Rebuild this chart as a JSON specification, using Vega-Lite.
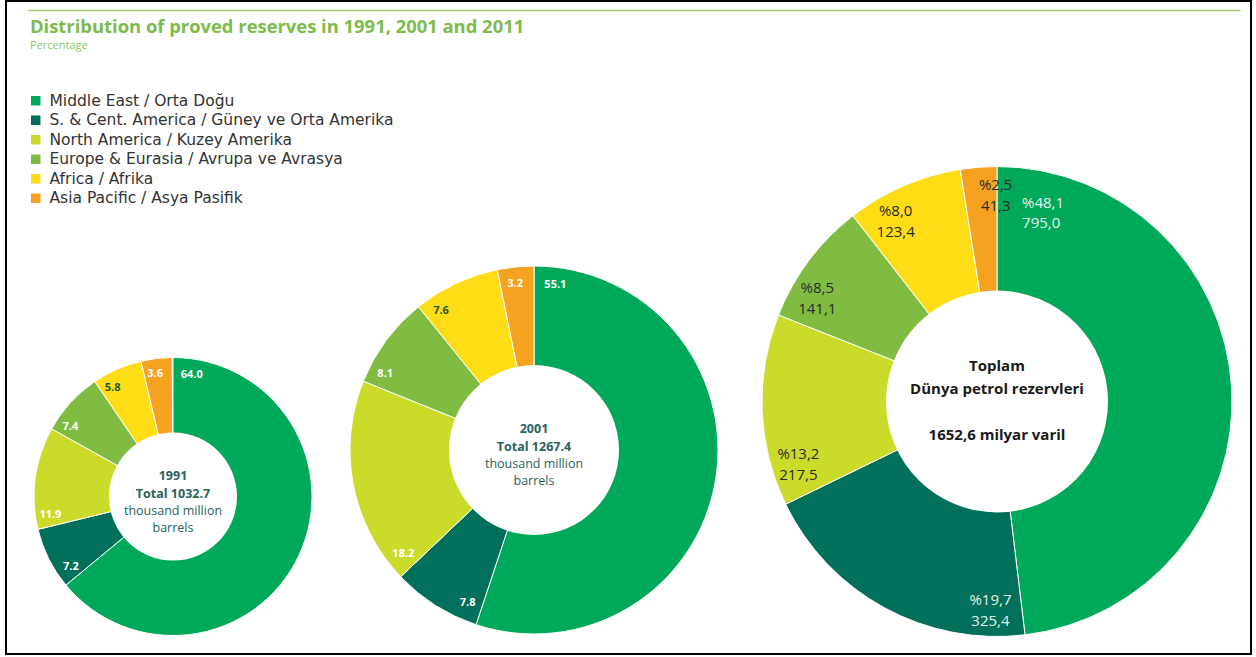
{
  "$schema": "https://vega.github.io/schema/vega-lite/v6.json",
  "autosize": {"type": "fit", "contains": "padding"},
  "width": 1256,
  "height": 657,
  "padding": {"left": 6, "top": 1, "right": 5, "bottom": 3},
  "background": "white",
  "config": {
    "view": {"stroke": "#000000", "strokeWidth": 2},
    "axisY": {"grid": false},
    "axisX": {"grid": false}
  },
  "title": {
    "text": "Distribution of proved reserves in 1991, 2001 and 2011",
    "subtitle": "Percentage",
    "anchor": "start",
    "frame": "group",
    "orient": "top",
    "offset": -49.5,
    "dx": 24,
    "font": "Open Sans",
    "fontSize": 18.4,
    "fontWeight": "bold",
    "color": "#7dbb4c",
    "subtitleFont": "Open Sans",
    "subtitleFontSize": 11,
    "subtitleColor": "#8cc665",
    "subtitlePadding": 3.5
  },
  "datasets": {
    "reserves": [
      {"year": 1991, "total": 1032.7, "rank": 1, "category": "Middle East / Orta Doğu", "value": 64.0, "label": "64.0"},
      {"year": 1991, "total": 1032.7, "rank": 2, "category": "S. & Cent. America / Güney ve Orta Amerika", "value": 7.2, "label": "7.2"},
      {"year": 1991, "total": 1032.7, "rank": 3, "category": "North America / Kuzey Amerika", "value": 11.9, "label": "11.9"},
      {"year": 1991, "total": 1032.7, "rank": 4, "category": "Europe & Eurasia / Avrupa ve Avrasya", "value": 7.4, "label": "7.4"},
      {"year": 1991, "total": 1032.7, "rank": 5, "category": "Africa / Afrika", "value": 5.8, "label": "5.8"},
      {"year": 1991, "total": 1032.7, "rank": 6, "category": "Asia Pacific / Asya Pasifik", "value": 3.6, "label": "3.6"},
      {"year": 2001, "total": 1267.4, "rank": 1, "category": "Middle East / Orta Doğu", "value": 55.1, "label": "55.1"},
      {"year": 2001, "total": 1267.4, "rank": 2, "category": "S. & Cent. America / Güney ve Orta Amerika", "value": 7.8, "label": "7.8"},
      {"year": 2001, "total": 1267.4, "rank": 3, "category": "North America / Kuzey Amerika", "value": 18.2, "label": "18.2"},
      {"year": 2001, "total": 1267.4, "rank": 4, "category": "Europe & Eurasia / Avrupa ve Avrasya", "value": 8.1, "label": "8.1"},
      {"year": 2001, "total": 1267.4, "rank": 5, "category": "Africa / Afrika", "value": 7.6, "label": "7.6"},
      {"year": 2001, "total": 1267.4, "rank": 6, "category": "Asia Pacific / Asya Pasifik", "value": 3.2, "label": "3.2"},
      {"year": 2011, "total": 1652.6, "rank": 1, "category": "Middle East / Orta Doğu", "value": 48.1, "label": "%48,1\n795,0"},
      {"year": 2011, "total": 1652.6, "rank": 2, "category": "S. & Cent. America / Güney ve Orta Amerika", "value": 19.7, "label": "%19,7\n325,4"},
      {"year": 2011, "total": 1652.6, "rank": 3, "category": "North America / Kuzey Amerika", "value": 13.2, "label": "%13,2\n217,5"},
      {"year": 2011, "total": 1652.6, "rank": 4, "category": "Europe & Eurasia / Avrupa ve Avrasya", "value": 8.5, "label": "%8,5\n141,1"},
      {"year": 2011, "total": 1652.6, "rank": 5, "category": "Africa / Afrika", "value": 8.0, "label": "%8,0\n123,4"},
      {"year": 2011, "total": 1652.6, "rank": 6, "category": "Asia Pacific / Asya Pasifik", "value": 2.5, "label": "%2,5\n41,3"}
    ],
    "centers": [
      {"year": 1991, "total": 1032.7, "bold": "1991\nTotal 1032.7", "normal": "thousand million\nbarrels"},
      {"year": 2001, "total": 1267.4, "bold": "2001\nTotal 1267.4", "normal": "thousand million\nbarrels"},
      {"year": 2011, "total": 1652.6, "bold": "Toplam\nDünya petrol rezervleri", "normal": "1652,6 milyar varil"}
    ]
  },
  "resolve": {"scale": {"theta": "independent", "radius": "independent"}},
  "layer": [
    {
      "data": {"name": "reserves"},
      "transform": [
        {"stack": "value", "groupby": ["year"], "sort": [{"field": "rank", "order": "ascending"}], "as": ["v0", "v1"]}
      ],
      "mark": {"type": "arc", "stroke": "white", "strokeWidth": 1},
      "encoding": {
        "x": {"field": "year", "type": "quantitative", "scale": {"domain": [1980, 1991, 2001, 2011, 2022], "range": [22, 167, 528, 991, 1234], "nice": false, "zero": false},
              "axis": {"orient": "top", "offset": -9, "domain": true, "domainColor": "#a3cc6a", "domainWidth": 1.5, "ticks": false, "labels": false, "title": null, "grid": false}},
        "y": {"field": "year", "type": "quantitative", "scale": {"domain": [1991, 2001, 2011], "range": [495.5, 449, 400.5], "nice": false, "zero": false}, "axis": null},
        "theta": {"field": "v0", "type": "quantitative", "stack": null, "scale": {"domain": [0, 100]}},
        "theta2": {"field": "v1"},
        "radius": {"field": "total", "type": "quantitative", "stack": null, "scale": {"type": "linear", "domain": [1032.7, 1267.4, 1652.6], "range": [139, 184, 235], "zero": false, "nice": false}},
        "radius2": {"value": 0},
        "color": {
          "field": "category", "type": "nominal",
          "scale": {
            "domain": ["Middle East / Orta Doğu", "S. & Cent. America / Güney ve Orta Amerika", "North America / Kuzey Amerika", "Europe & Eurasia / Avrupa ve Avrasya", "Africa / Afrika", "Asia Pacific / Asya Pasifik"],
            "range": ["#00a85a", "#00705a", "#cbdb2a", "#80bc42", "#fedc16", "#f5a220"]
          },
          "legend": {
            "orient": "none", "legendX": 22, "legendY": 92, "title": null, "padding": 0,
            "symbolType": "square", "symbolSize": 90, "symbolStrokeWidth": 0,
            "labelFont": "DejaVu Sans", "labelFontSize": 15.5, "labelColor": "#333333", "labelOffset": 6,
            "rowPadding": 2.5, "labelLimit": 500
          }
        }
      }
    },
    {
      "data": {"name": "centers"},
      "mark": {"type": "point", "shape": "circle", "filled": true, "fill": "white", "opacity": 1, "strokeWidth": 0},
      "encoding": {
        "x": {"field": "year", "type": "quantitative", "scale": {"domain": [1980, 1991, 2001, 2011, 2022], "range": [22, 167, 528, 991, 1234], "nice": false, "zero": false}},
        "y": {"field": "year", "type": "quantitative", "scale": {"domain": [1991, 2001, 2011], "range": [495.5, 449, 400.5], "nice": false, "zero": false}},
        "size": {"field": "total", "type": "quantitative", "legend": null, "scale": {"type": "linear", "domain": [1032.7, 1267.4, 1652.6], "range": [16384, 28900, 49284], "zero": false, "nice": false}}
      }
    },
    {
      "data": {"name": "reserves"},
      "transform": [
        {"stack": "value", "groupby": ["year"], "sort": [{"field": "rank", "order": "ascending"}], "as": ["v0", "v1"]},
        {"filter": "datum.year != 2011 && datum.rank != 1"}
      ],
      "mark": {"type": "text", "font": "Open Sans", "fontWeight": "bold", "fontSize": 11, "align": "center", "baseline": "middle"},
      "encoding": {
        "x": {"field": "year", "type": "quantitative", "scale": {"domain": [1980, 1991, 2001, 2011, 2022], "range": [22, 167, 528, 991, 1234], "nice": false, "zero": false}},
        "y": {"field": "year", "type": "quantitative", "scale": {"domain": [1991, 2001, 2011], "range": [495.5, 449, 400.5], "nice": false, "zero": false}},
        "theta": {"field": "v0", "type": "quantitative", "stack": null, "scale": {"domain": [-1.4, 98.6]}},
        "radius": {"field": "total", "type": "quantitative", "stack": null, "scale": {"type": "linear", "domain": [1032.7, 1267.4, 1652.6], "range": [124, 167, 205], "zero": false, "nice": false}},
        "text": {"field": "label"},
        "color": {"condition": {"test": "datum.rank == 5", "value": "#1f5a2c"}, "value": "#ffffff"}
      }
    },
    {
      "data": {"name": "reserves"},
      "transform": [
        {"stack": "value", "groupby": ["year"], "sort": [{"field": "rank", "order": "ascending"}], "as": ["v0", "v1"]},
        {"filter": "datum.year != 2011 && datum.rank == 1"}
      ],
      "mark": {"type": "text", "font": "Open Sans", "fontWeight": "bold", "fontSize": 11, "align": "left", "baseline": "middle", "color": "#ffffff"},
      "encoding": {
        "x": {"field": "year", "type": "quantitative", "scale": {"domain": [1980, 1991, 2001, 2011, 2022], "range": [22, 167, 528, 991, 1234], "nice": false, "zero": false}},
        "y": {"field": "year", "type": "quantitative", "scale": {"domain": [1991, 2001, 2011], "range": [495.5, 449, 400.5], "nice": false, "zero": false}},
        "theta": {"field": "v0", "type": "quantitative", "stack": null, "scale": {"domain": [-1, 99]}},
        "radius": {"field": "total", "type": "quantitative", "stack": null, "scale": {"type": "linear", "domain": [1032.7, 1267.4, 1652.6], "range": [122, 165, 200], "zero": false, "nice": false}},
        "text": {"field": "label"}
      }
    },
    {
      "data": {"name": "reserves"},
      "transform": [
        {"stack": "value", "groupby": ["year"], "sort": [{"field": "rank", "order": "ascending"}], "as": ["v0", "v1"]},
        {"filter": "datum.year == 2011 && datum.rank != 1"}
      ],
      "mark": {"type": "text", "font": "Open Sans", "fontSize": 15, "align": "center", "baseline": "middle", "lineBreak": "\n", "lineHeight": 21, "dy": -9},
      "encoding": {
        "x": {"field": "year", "type": "quantitative", "scale": {"domain": [1980, 1991, 2001, 2011, 2022], "range": [22, 167, 528, 991, 1234], "nice": false, "zero": false}},
        "y": {"field": "year", "type": "quantitative", "scale": {"domain": [1991, 2001, 2011], "range": [495.5, 449, 400.5], "nice": false, "zero": false}},
        "theta": {"field": "v0", "type": "quantitative", "stack": null, "scale": {"domain": [-2.4, 97.6]}},
        "radius": {"field": "total", "type": "quantitative", "stack": null, "scale": {"type": "linear", "domain": [1032.7, 1267.4, 1652.6], "range": [124, 167, 208], "zero": false, "nice": false}},
        "text": {"field": "label"},
        "color": {"condition": {"test": "datum.rank == 2", "value": "#e4f2ee"}, "value": "#2a2a2a"}
      }
    },
    {
      "data": {"name": "reserves"},
      "transform": [
        {"stack": "value", "groupby": ["year"], "sort": [{"field": "rank", "order": "ascending"}], "as": ["v0", "v1"]},
        {"filter": "datum.year == 2011 && datum.rank == 1"}
      ],
      "mark": {"type": "text", "font": "Open Sans", "fontSize": 15, "align": "left", "baseline": "middle", "lineBreak": "\n", "lineHeight": 20, "color": "#e4f2ee"},
      "encoding": {
        "x": {"field": "year", "type": "quantitative", "scale": {"domain": [1980, 1991, 2001, 2011, 2022], "range": [22, 167, 528, 991, 1234], "nice": false, "zero": false}},
        "y": {"field": "year", "type": "quantitative", "scale": {"domain": [1991, 2001, 2011], "range": [495.5, 449, 400.5], "nice": false, "zero": false}},
        "theta": {"field": "v0", "type": "quantitative", "stack": null, "scale": {"domain": [-2, 98]}},
        "radius": {"field": "total", "type": "quantitative", "stack": null, "scale": {"type": "linear", "domain": [1032.7, 1267.4, 1652.6], "range": [124, 167, 200], "zero": false, "nice": false}},
        "text": {"field": "label"}
      }
    },
    {
      "data": {"name": "centers"},
      "transform": [{"filter": "datum.year != 2011"}],
      "mark": {"type": "text", "font": "Open Sans", "fontWeight": "bold", "fontSize": 12.5, "align": "center", "baseline": "middle", "lineBreak": "\n", "lineHeight": 18, "dy": -21, "color": "#2b625c"},
      "encoding": {
        "x": {"field": "year", "type": "quantitative", "scale": {"domain": [1980, 1991, 2001, 2011, 2022], "range": [22, 167, 528, 991, 1234], "nice": false, "zero": false}},
        "y": {"field": "year", "type": "quantitative", "scale": {"domain": [1991, 2001, 2011], "range": [495.5, 449, 400.5], "nice": false, "zero": false}},
        "text": {"field": "bold"}
      }
    },
    {
      "data": {"name": "centers"},
      "transform": [{"filter": "datum.year != 2011"}],
      "mark": {"type": "text", "font": "Open Sans", "fontSize": 12.5, "align": "center", "baseline": "middle", "lineBreak": "\n", "lineHeight": 17, "dy": 14, "color": "#2b625c"},
      "encoding": {
        "x": {"field": "year", "type": "quantitative", "scale": {"domain": [1980, 1991, 2001, 2011, 2022], "range": [22, 167, 528, 991, 1234], "nice": false, "zero": false}},
        "y": {"field": "year", "type": "quantitative", "scale": {"domain": [1991, 2001, 2011], "range": [495.5, 449, 400.5], "nice": false, "zero": false}},
        "text": {"field": "normal"}
      }
    },
    {
      "data": {"name": "centers"},
      "transform": [{"filter": "datum.year == 2011"}],
      "mark": {"type": "text", "font": "Open Sans", "fontWeight": "bold", "fontSize": 15, "align": "center", "baseline": "middle", "lineBreak": "\n", "lineHeight": 23, "dy": -35.5, "color": "#1a1a1a"},
      "encoding": {
        "x": {"field": "year", "type": "quantitative", "scale": {"domain": [1980, 1991, 2001, 2011, 2022], "range": [22, 167, 528, 991, 1234], "nice": false, "zero": false}},
        "y": {"field": "year", "type": "quantitative", "scale": {"domain": [1991, 2001, 2011], "range": [495.5, 449, 400.5], "nice": false, "zero": false}},
        "text": {"field": "bold"}
      }
    },
    {
      "data": {"name": "centers"},
      "transform": [{"filter": "datum.year == 2011"}],
      "mark": {"type": "text", "font": "Open Sans", "fontWeight": "bold", "fontSize": 15, "align": "center", "baseline": "middle", "dy": 33.5, "color": "#1a1a1a"},
      "encoding": {
        "x": {"field": "year", "type": "quantitative", "scale": {"domain": [1980, 1991, 2001, 2011, 2022], "range": [22, 167, 528, 991, 1234], "nice": false, "zero": false}},
        "y": {"field": "year", "type": "quantitative", "scale": {"domain": [1991, 2001, 2011], "range": [495.5, 449, 400.5], "nice": false, "zero": false}},
        "text": {"field": "normal"}
      }
    }
  ]
}
